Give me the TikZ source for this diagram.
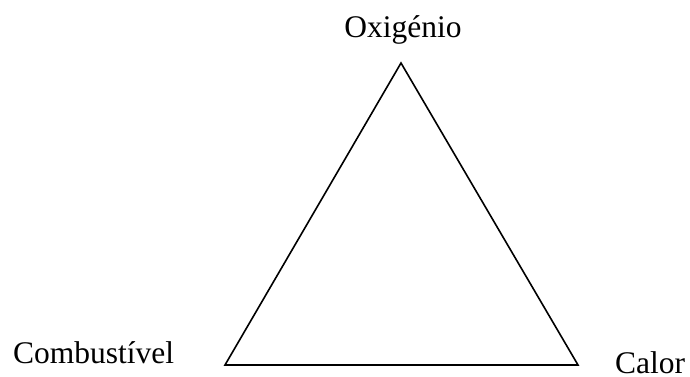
\documentclass[tikz,border=0pt]{standalone}
\usepackage{fontspec}
\setmainfont{Liberation Serif}
\begin{document}
\begin{tikzpicture}[x=1pt,y=1pt,
  lbl/.style={inner sep=0pt,font=\fontsize{31.5}{36}\selectfont},
  edge/.style={line width=1.6pt,line join=miter}]
\useasboundingbox (0,0) rectangle (690,376);
\coordinate (top) at (401,313);
\coordinate (bl) at (225,11);
\coordinate (br) at (578,11);
\draw[edge] (top) -- (bl) -- (br) -- cycle;
\node[lbl,anchor=base] (oxi) at (403,339) {Oxigénio};
\node[lbl,anchor=base west] (comb) at (13,13) {Combustível};
\node[lbl,anchor=base west] (cal) at (615,2.5) {Calor};
\end{tikzpicture}
\end{document}
